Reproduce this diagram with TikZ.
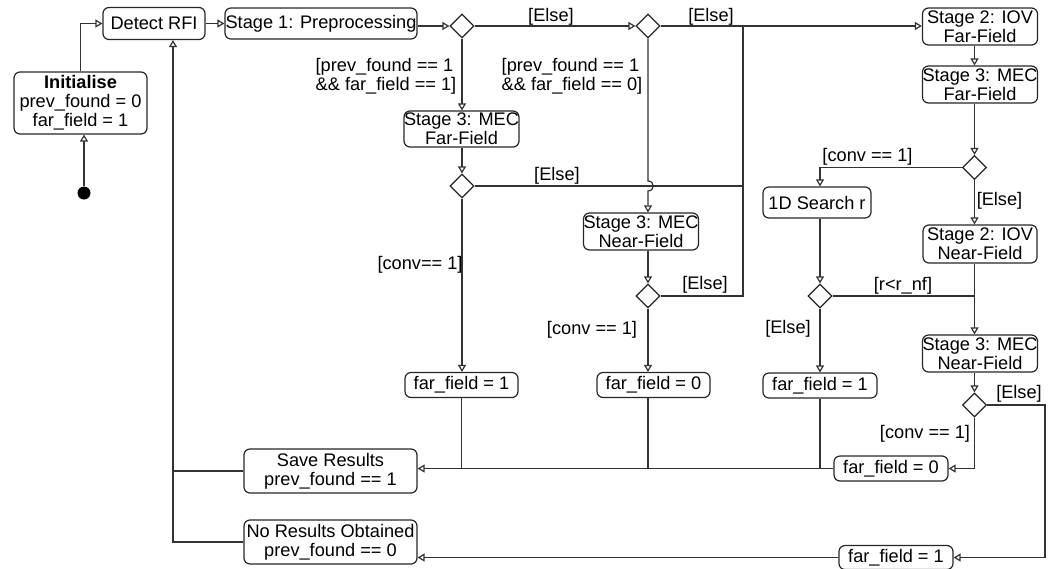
\documentclass[tikz,border=0pt]{standalone}
\usepackage{fontspec}
\setmainfont{Liberation Sans}
\usetikzlibrary{arrows.meta,shapes.geometric}
\begin{document}
\begin{tikzpicture}[x=1pt,y=-1pt,
  every node/.style={font=\fontsize{18.2}{19.2}\selectfont},
  box/.style={draw=black!85, line width=1.2pt, rounded corners=6pt, align=center, inner sep=0pt},
  dia/.style={draw=black!85, line width=1.2pt, diamond, minimum width=24pt, minimum height=24pt, inner sep=0pt},
  line/.style={draw=black!80, line width=1.2pt},
  arr/.style={line, -{Triangle[open, length=7pt, width=8pt]}},
  lbl/.style={inner sep=0pt, align=center}
]
\useasboundingbox (0,0) rectangle (1054,568);

% nodes
\node[box, minimum width=133pt, minimum height=62pt] (init) at (80.5,103) {\textbf{Initialise}\\prev\_found = 0\\far\_field = 1};
\node[circle, fill=black, minimum size=13pt, inner sep=0pt] (start) at (84,193) {};
\node[box, minimum width=102pt, minimum height=32pt] (detect) at (154,23.5) {Detect RFI};
\node[box, minimum width=192pt, minimum height=31pt] (stage1) at (321,23.5) {Stage 1: Preprocessing};
\node[dia] (d1) at (462,26) {};
\node[dia] (d2) at (648,26) {};
\node[box, minimum width=115pt, minimum height=36pt] (mecff1) at (461.5,129) {Stage 3: MEC\\Far-Field};
\node[dia] (d3) at (462,186) {};
\node[box, minimum width=113pt, minimum height=37pt] (mecnf1) at (641,231.5) {Stage 3: MEC\\Near-Field};
\node[dia] (d4) at (648,296) {};
\node[box, minimum width=113pt, minimum height=25pt] (ff1a) at (461.5,385) {far\_field = 1};
\node[box, minimum width=113pt, minimum height=25pt] (ff0a) at (653.5,385) {far\_field = 0};
\node[box, minimum width=115pt, minimum height=37pt] (iovff) at (980,26.5) {Stage 2: IOV\\Far-Field};
\node[box, minimum width=115pt, minimum height=37pt] (mecff2) at (980,84.5) {Stage 3: MEC\\Far-Field};
\node[dia] (d5) at (974.5,167.5) {};
\node[box, minimum width=108pt, minimum height=31pt] (search) at (817,202.5) {1D Search r};
\node[box, minimum width=114pt, minimum height=38pt] (iovnf) at (980,244) {Stage 2: IOV\\Near-Field};
\node[dia] (d6) at (820,296) {};
\node[box, minimum width=114pt, minimum height=25pt] (ff1b) at (820,385.5) {far\_field = 1};
\node[box, minimum width=114pt, minimum height=37pt] (mecnf2) at (980,353.5) {Stage 3: MEC\\Near-Field};
\node[dia] (d7) at (974.5,405) {};
\node[box, minimum width=114pt, minimum height=25pt] (ff0b) at (891,468.5) {far\_field = 0};
\node[box, minimum width=173pt, minimum height=44pt] (save) at (330.5,471) {Save Results\\prev\_found == 1};
\node[box, minimum width=173pt, minimum height=44pt] (nores) at (330.5,542) {No Results Obtained\\prev\_found == 0};
\node[box, minimum width=114pt, minimum height=24pt] (ff1c) at (896,557.5) {far\_field = 1};

\coordinate (jtop) at (743,26);
\coordinate (jb) at (1045,405);
\coordinate (jl) at (173,469);

% connectors
\draw[arr] (start) -- (start |- init.south);
\draw[arr] (init.north) |- (detect.west);
\draw[arr] (detect.east) -- (stage1.west);
\draw[arr] (stage1.east |- d1) -- (d1.west);
\draw[arr] (d1.east) -- (d2.west);
\draw[arr] (d2.east) -- (d2.east -| iovff.west);
\draw[arr] (d1.south) -- (d1.south |- mecff1.north);
\draw[arr] (d2.south) -- (648,181) .. controls (655,181) and (655,191) .. (648,191) -- (d2 |- mecnf1.north);
\draw[arr] (mecff1.south -| d3) -- (d3.north);
\draw[line] (d3.east) -- (d3.east -| jtop);
\draw[arr] (d3.south) -- (d3.south |- ff1a.north);
\draw[arr] (mecnf1.south -| d4) -- (d4.north);
\draw[line] (d4.east) -| (jtop);
\draw[arr] (d4.south) -- (d4.south |- ff0a.north);

\draw[arr] (iovff.south -| d5) -- (mecff2.north -| d5);
\draw[arr] (mecff2.south -| d5) -- (d5.north);
\draw[arr] (d5.west) -| (d6 |- search.north);
\draw[arr] (d5.south) -- (d5.south |- iovnf.north);
\draw[arr] (search.south -| d6) -- (d6.north);
\draw[arr] (iovnf.south -| d5) -- (mecnf2.north -| d5);
\draw[line] (d6.east) -- (d6.east -| d5);
\draw[arr] (d6.south) -- (d6.south |- ff1b.north);
\draw[arr] (mecnf2.south -| d5) -- (d7.north);
\draw[arr] (d7.east) -- (jb) |- (ff1c.east);
\draw[arr] (d7.south) |- (ff0b.east);

\draw[arr] (ff0b.west) -- (ff0b.west -| save.east);
\draw[line] (ff1a.south) -- (ff1a.south |- ff0b.west);
\draw[line] (d4 |- ff0a.south) -- (d4 |- ff0b.west);
\draw[line] (ff1b.south) -- (ff1b.south |- ff0b.west);
\draw[arr] (ff1c.west) -- (ff1c.west -| nores.east);
\draw[line] (save.west) -- (save.west -| jl);
\draw[arr] (nores.west) -| (detect.south -| jl);

% labels
\node[lbl] at (551,17) {[Else]};
\node[lbl] at (711,17) {[Else]};
\node[lbl, align=left] at (386,76) {[prev\_found == 1\\\&\& far\_field == 1]};
\node[lbl, align=left] at (572,76) {[prev\_found == 1\\\&\& far\_field == 0]};
\node[lbl] at (557,176) {[Else]};
\node[lbl] at (420,265) {[conv== 1]};
\node[lbl] at (705,285) {[Else]};
\node[lbl] at (592,330) {[conv == 1]};
\node[lbl] at (867.5,157) {[conv == 1]};
\node[lbl] at (999.5,201) {[Else]};
\node[lbl] at (903,286) {[r<r\_nf]};
\node[lbl] at (788,329) {[Else]};
\node[lbl] at (1019,394) {[Else]};
\node[lbl] at (925,434) {[conv == 1]};
\end{tikzpicture}
\end{document}
